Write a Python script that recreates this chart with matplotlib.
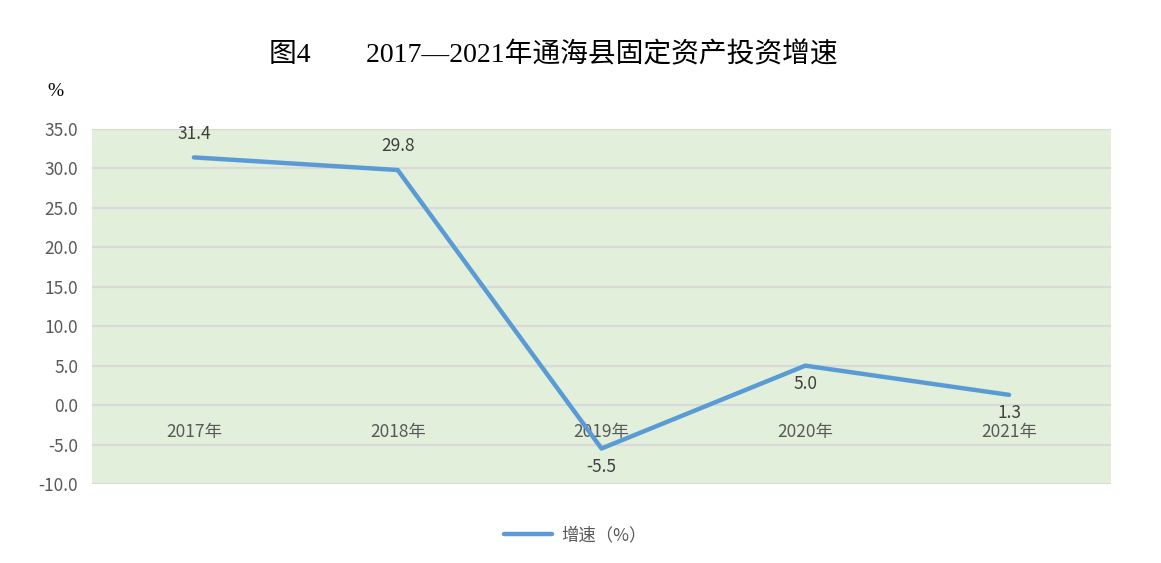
import matplotlib
matplotlib.use("Agg")
import matplotlib.pyplot as plt

categories = ["2017年", "2018年", "2019年", "2020年", "2021年"]
values = [31.4, 29.8, -5.5, 5.0, 1.3]
yticks = [-10, -5, 0, 5, 10, 15, 20, 25, 30, 35]
label_pos = ["above", "above", "below", "below", "below"]

plt.rcParams['font.family'] = ['Noto Sans CJK SC', 'DejaVu Sans']

fig = plt.figure(figsize=(11.61, 5.63), dpi=100)
ax = fig.add_axes([92/1161, 1-484/563, (1111-92)/1161, (484-129)/563])
ax.set_facecolor('#E2EFDA')

x = list(range(len(categories)))
ax.plot(x, values, color='#5B9BD5', lw=3.2, solid_capstyle='round', zorder=3, label='增速（%）')

for xi, v, p in zip(x, values, label_pos):
    off = 17 if p == "above" else -13
    ax.annotate(f"{v:.1f}", (xi, v), xytext=(0, off), textcoords='offset points',
                ha='center', va='center', fontsize=12.5, color='#404040', zorder=4)

ax.set_xlim(-0.5, len(categories) - 0.5)
ax.set_ylim(-10, 35)
ax.set_yticks(yticks)
ax.set_yticklabels([f"{t:.1f}" for t in yticks], fontsize=12.5, color='#595959')
ax.tick_params(axis='y', length=0, pad=10)
ax.yaxis.grid(True, color='#D9D9D9', lw=1.6)
ax.set_axisbelow(True)

ax.set_xticks(x)
ax.spines['bottom'].set_position(('data', 0))
ax.tick_params(axis='x', length=0, pad=13, labelsize=12.5, labelcolor='#595959')
ax.set_xticklabels(categories)
for s in ['top', 'right', 'left', 'bottom']:
    ax.spines[s].set_visible(False)

fig.text(553/1161, 1-55/563, "图4　　2017—2021年通海县固定资产投资增速",
         ha='center', va='center', fontsize=20, color='#000000',
         family=['Liberation Serif', 'Noto Sans CJK SC'])
fig.text(55/1161, 1-91/563, "%", ha='center', va='center', fontsize=14, color='#000000',
         family=['Liberation Serif', 'DejaVu Sans'])

leg = fig.legend(loc='center', bbox_to_anchor=(575/1161, 1-535/563), frameon=False,
                 fontsize=12.5, handlelength=2.8, handletextpad=0.5, labelcolor='#595959')

fig.savefig("out.png", dpi=100)
